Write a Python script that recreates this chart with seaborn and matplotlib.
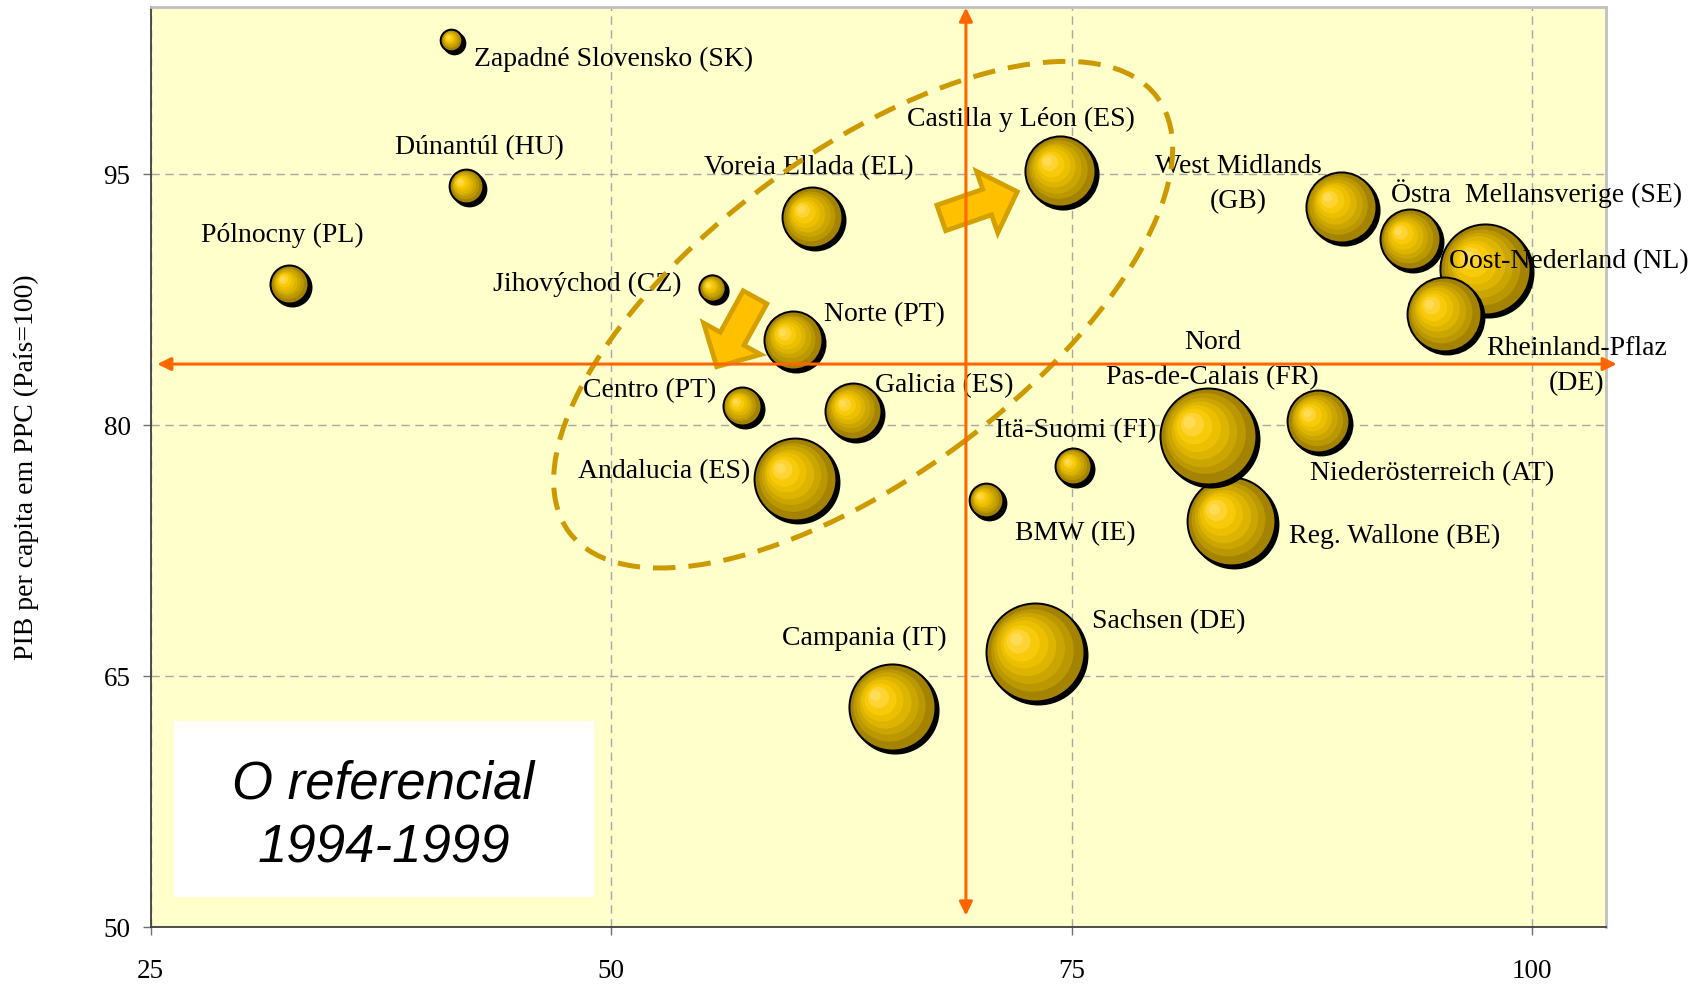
import numpy as np
import pandas as pd
import matplotlib
matplotlib.use("Agg")
import matplotlib.pyplot as plt
import seaborn as sns
from matplotlib.patches import Ellipse, Rectangle, FancyArrowPatch
from matplotlib.transforms import ScaledTranslation

# ---------------- data ----------------
regioes = ["Zapadné Slovensko (SK)", "Dúnantúl (HU)", "Pólnocny (PL)", "Jihovýchod (CZ)",
           "Voreia Ellada (EL)", "Norte (PT)", "Castilla y Léon (ES)", "West Midlands\n(GB)",
           "Oost-Nederland (NL)", "Östra  Mellansverige (SE)", "Rheinland-Pflaz\n(DE)",
           "Centro (PT)", "Galicia (ES)", "Andalucia (ES)", "Itä-Suomi (FI)", "BMW (IE)",
           "Reg. Wallone (BE)", "Nord\nPas-de-Calais (FR)", "Niederösterreich (AT)",
           "Sachsen (DE)", "Campania (IT)"]
indice_x = [41.33, 42.11, 32.51, 55.49, 60.90, 59.88, 74.38, 89.60, 97.45, 93.36, 95.19,
            57.08, 63.12, 60.00, 75.09, 70.33, 83.65, 82.38, 88.40, 72.99, 65.23]
pib_pc = [103.04, 94.31, 88.45, 88.20, 92.41, 85.10, 95.21, 93.04, 89.35, 91.11, 86.66,
          81.14, 80.87, 76.80, 77.57, 75.52, 74.29, 79.38, 80.25, 66.44, 63.17]
dimensao = [1.4, 3.2, 4.0, 2.0, 9.6, 9.0, 13.0, 13.0, 21.2, 9.6, 14.4,
            4.0, 8.4, 17.6, 3.6, 3.2, 20.2, 24.0, 10.2, 25.0, 19.4]

media_x = 69.26
media_y = 83.65

x_ticks = [25, 50, 75, 100]
y_ticks = [50, 65, 80, 95]
y_label = "PIB per capita em PPC (País=100)"
caixa_texto = ["O referencial", "1994-1999"]

# label layout (baseline of the last line of the text, alignment)
lab_x = [42.54, 42.86, 32.14, 53.82, 60.75, 61.55, 72.26, 84.04, 95.47, 92.32, 102.41,
         55.73, 64.35, 57.54, 75.23, 71.94, 86.79, 82.64, 87.94, 76.09, 63.73]
lab_y = [101.48, 96.20, 90.96, 88.03, 95.01, 86.24, 97.87, 92.96, 89.37, 93.31, 82.10,
         81.70, 82.00, 76.83, 79.27, 73.14, 72.94, 82.46, 76.72, 67.90, 66.87]
lab_ha = ["left", "center", "center", "right", "center", "left", "center", "center", "left",
          "left", "center", "right", "left", "right", "center", "left", "left", "center",
          "left", "left", "center"]

# ---------------- figure ----------------
DPI = 100
W_PX, H_PX = 1701, 984
XMIN, XMAX, YMIN, YMAX = 25, 104, 50, 105
AX_L, AX_R, AX_T, AX_B = 150.7, 1605.8, 6.7, 927.3

plt.rcParams['font.family'] = ['Liberation Serif', 'DejaVu Serif']

fig = plt.figure(figsize=(W_PX / DPI, H_PX / DPI), dpi=DPI)
fig.patch.set_facecolor('white')
ax = fig.add_axes([AX_L / W_PX, 1 - AX_B / H_PX, (AX_R - AX_L) / W_PX, (AX_B - AX_T) / H_PX])
ax.set_facecolor('#ffffcc')

px_x = (AX_R - AX_L) / (XMAX - XMIN)
px_y = (AX_B - AX_T) / (YMAX - YMIN)


def s_pts(r_px):
    return (2 * r_px * 72.0 / DPI) ** 2


aneis = [(0.86, '#bb9700'), (0.74, '#cca600'), (0.62, '#ddb400'), (0.50, '#ecc000'),
         (0.38, '#f8ca0c'), (0.25, '#ffd333'), (0.13, '#ffdc55')]

for i in range(len(regioes)):
    r = 10 * np.sqrt(dimensao[i])
    rin = r - 2.0
    camadas = [(3.0, -3.0, r, '#000000'), (0.0, 0.0, r, '#000000'), (0.0, 0.0, rin, '#a38300')]
    for f, c in aneis:
        camadas.append((-0.45 * (1 - f) * rin, 0.32 * (1 - f) * rin, f * rin, c))
    for dx, dy, rr, c in camadas:
        d = pd.DataFrame({"x": [indice_x[i] + dx / px_x], "y": [pib_pc[i] + dy / px_y]})
        sns.scatterplot(data=d, x="x", y="y", s=s_pts(rr), color=c, linewidth=0,
                        ax=ax, zorder=3, legend=False)

ax.set_xlim(XMIN, XMAX)
ax.set_ylim(YMIN, YMAX)
ax.set_xticks(x_ticks)
ax.set_yticks(y_ticks)
ax.set_xlabel("")
ax.set_ylabel(y_label, fontsize=20)
ax.yaxis.set_label_coords((39 - AX_L) / (AX_R - AX_L), 0.5)

ax.grid(True, linestyle=(0, (6, 4)), color='#a8a8a8', linewidth=1.0)
ax.set_axisbelow(True)
ax.tick_params(axis='both', direction='out', length=6, width=1, color='#707070',
               labelsize=19.5, labelcolor='black', bottom=True, left=True)
ax.tick_params(axis='x', pad=17)
ax.tick_params(axis='y', pad=8.5)
for side in ['left', 'bottom']:
    ax.spines[side].set_color('#404040')
    ax.spines[side].set_linewidth(1.3)
for side in ['top', 'right']:
    ax.spines[side].set_color('#c0c0c0')
    ax.spines[side].set_linewidth(2)

# labels
for i, t in enumerate(regioes):
    ax.text(lab_x[i], lab_y[i], t, ha=lab_ha[i], va='baseline', fontsize=20,
            multialignment='center', linespacing=1.53, zorder=4, clip_on=False)

# white box with the title
ax.add_patch(Rectangle((26.24, 51.83), 22.81, 10.48, facecolor='white', edgecolor='none', zorder=2))
ax.text(37.64, 57.72, caixa_texto[0], ha='center', va='baseline', fontsize=38,
        style='italic', family=['Liberation Sans', 'DejaVu Sans'], zorder=4)
ax.text(37.64, 53.88, caixa_texto[1], ha='center', va='baseline', fontsize=38,
        style='italic', family=['Liberation Sans', 'DejaVu Sans'], zorder=4)

# block arrows
for (xa, ya), (xb, yb) in [((67.92, 92.38), (72.05, 93.95)), ((57.81, 87.64), (55.73, 83.49))]:
    ax.add_patch(FancyArrowPatch((xa, ya), (xb, yb),
                                 arrowstyle='simple,head_length=23,head_width=47,tail_width=19.5',
                                 mutation_scale=1, facecolor='#ffc000', edgecolor='#d4a000',
                                 linewidth=3.4, shrinkA=0, shrinkB=0, zorder=2.5,
                                 joinstyle='miter'))

# dashed ellipse
ell = Ellipse((0, 0), width=2 * 3.657, height=2 * 1.619, angle=36.45, fill=False,
              edgecolor='#cc9900', linewidth=3.6, linestyle=(0, (4.5, 2.6)),
              transform=fig.dpi_scale_trans + ScaledTranslation(63.68, 86.60, ax.transData),
              zorder=5, clip_on=False)
ax.add_patch(ell)

# reference lines (means)
ax.annotate('', xy=(104.6, media_y), xytext=(25.35, media_y),
            arrowprops=dict(arrowstyle='<|-|>,head_length=0.45,head_width=0.22', color='#ff6600',
                            lw=2.2, mutation_scale=18, shrinkA=0, shrinkB=0),
            annotation_clip=False, zorder=6)
ax.annotate('', xy=(media_x, 50.7), xytext=(media_x, 104.95),
            arrowprops=dict(arrowstyle='<|-|>,head_length=0.45,head_width=0.22', color='#ff6600',
                            lw=2.2, mutation_scale=18, shrinkA=0, shrinkB=0),
            annotation_clip=False, zorder=6)

fig.savefig("out.png", dpi=DPI)
